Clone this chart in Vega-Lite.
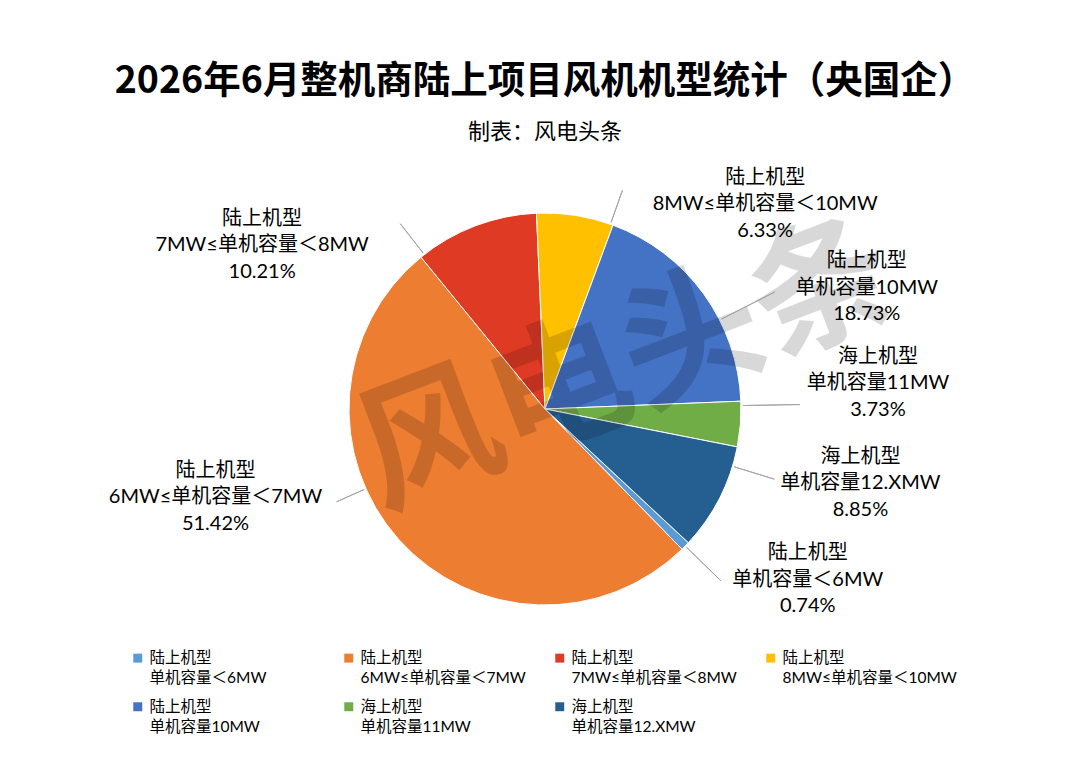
{
  "$schema": "https://vega.github.io/schema/vega-lite/v6.json",
  "width": 1000,
  "height": 498,
  "autosize": {"type": "none"},
  "padding": {"left": 45, "top": 160, "right": 26, "bottom": 105},
  "background": "white",
  "config": {
    "view": {"stroke": null},
    "font": "Noto Sans CJK SC",
    "style": {"guide-label": {"lineHeight": 20}}
  },
  "title": {
    "text": "2026年6月整机商陆上项目风机机型统计（央国企）",
    "subtitle": "制表：风电头条",
    "font": "Noto Sans CJK SC",
    "fontSize": 37.5,
    "fontWeight": "bold",
    "color": "#000000",
    "subtitleFont": "Noto Sans CJK SC",
    "subtitleFontSize": 22,
    "subtitleColor": "#000000",
    "subtitlePadding": 22,
    "offset": 17,
    "anchor": "middle"
  },
  "data": {
    "values": [
      {"name": "陆上机型\n单机容量＜6MW", "value": 0.74},
      {"name": "陆上机型\n6MW≤单机容量＜7MW", "value": 51.42},
      {"name": "陆上机型\n7MW≤单机容量＜8MW", "value": 10.21},
      {"name": "陆上机型\n8MW≤单机容量＜10MW", "value": 6.33},
      {"name": "陆上机型\n单机容量10MW", "value": 18.73},
      {"name": "海上机型\n单机容量11MW", "value": 3.73},
      {"name": "海上机型\n单机容量12.XMW", "value": 8.85}
    ]
  },
  "transform": [
    {"stack": "value", "groupby": [], "as": ["v0", "v1"]},
    {"calculate": "(datum.v0 + datum.v1) / 2", "as": "mid"},
    {"calculate": "datum.name + '\\n' + format(datum.value, '.2f') + '%'", "as": "label"}
  ],
  "layer": [
    {
      "mark": {"type": "arc", "stroke": "#ffffff", "strokeWidth": 1},
      "encoding": {
        "theta": {"field": "v0", "type": "quantitative", "stack": null, "scale": {"domain": [0, 100.01], "range": [2.32129, 8.60448]}},
        "theta2": {"field": "v1"},
        "radius": {"value": 196},
        "color": {
          "field": "name",
          "type": "nominal",
          "scale": {
            "domain": [
              "陆上机型\n单机容量＜6MW",
              "陆上机型\n6MW≤单机容量＜7MW",
              "陆上机型\n7MW≤单机容量＜8MW",
              "陆上机型\n8MW≤单机容量＜10MW",
              "陆上机型\n单机容量10MW",
              "海上机型\n单机容量11MW",
              "海上机型\n单机容量12.XMW"
            ],
            "range": ["#5B9BD5", "#ED7D31", "#DF3A24", "#FFC000", "#4472C4", "#70AD47", "#255E91"]
          },
          "legend": {
            "title": null,
            "orient": "none",
            "legendX": 85,
            "legendY": 490,
            "direction": "horizontal",
            "columns": 4,
            "gridAlign": "all",
            "padding": 0,
            "symbolType": "square",
            "symbolSize": 80,
            "symbolStrokeWidth": 0,
            "labelFont": "Lato, Noto Sans CJK SC",
            "labelFontSize": 15.5,
            "labelColor": "#000000",
            "labelExpr": "split(datum.label, '\\n')",
            "labelBaseline": "middle",
            "labelLimit": 300,
            "labelOffset": 4,
            "columnPadding": 17,
            "rowPadding": 12
          }
        }
      }
    },
    {
      "data": {"values": [{"mark": "风电头条"}]},
      "mark": {"type": "text", "fontSize": 140, "fontWeight": "bold", "angle": 339, "fill": "#000000", "opacity": 0.15, "align": "center", "baseline": "middle"},
      "encoding": {
        "theta": {"value": 1.11},
        "radius": {"value": 92},
        "text": {"field": "mark"}
      }
    },
    {
      "transform": [{"filter": {"field": "name", "equal": "陆上机型\n单机容量＜6MW"}}],
      "layer": [
        {
          "mark": {"type": "arc", "filled": false, "stroke": "#a6a6a6", "strokeWidth": 1, "thetaOffset": 0, "theta2Offset": 0},
          "encoding": {"theta": {"field": "mid", "type": "quantitative", "stack": null, "scale": {"domain": [0, 100.01], "range": [2.32129, 8.60448]}}, "theta2": {"field": "mid"}, "radius": {"value": 246}, "radius2": {"value": 198}}
        },
        {
          "mark": {"type": "text", "thetaOffset": -0.1995, "dy": -26, "font": "Lato, Noto Sans CJK SC", "fontSize": 20, "lineBreak": "\n", "lineHeight": 26.5, "align": "center", "baseline": "middle", "fill": "#000000"},
          "encoding": {"theta": {"field": "mid", "type": "quantitative", "stack": null, "scale": {"domain": [0, 100.01], "range": [2.32129, 8.60448]}}, "radius": {"value": 313}, "text": {"field": "label"}}
        }
      ]
    },
    {
      "transform": [{"filter": {"field": "name", "equal": "陆上机型\n6MW≤单机容量＜7MW"}}],
      "layer": [
        {
          "mark": {"type": "arc", "filled": false, "stroke": "#a6a6a6", "strokeWidth": 1, "thetaOffset": 0.3105, "theta2Offset": 0.3105},
          "encoding": {"theta": {"field": "mid", "type": "quantitative", "stack": null, "scale": {"domain": [0, 100.01], "range": [2.32129, 8.60448]}}, "theta2": {"field": "mid"}, "radius": {"value": 228}, "radius2": {"value": 198}}
        },
        {
          "mark": {"type": "text", "thetaOffset": 0.4693, "dy": -26, "font": "Lato, Noto Sans CJK SC", "fontSize": 20, "lineBreak": "\n", "lineHeight": 26.5, "align": "center", "baseline": "middle", "fill": "#000000"},
          "encoding": {"theta": {"field": "mid", "type": "quantitative", "stack": null, "scale": {"domain": [0, 100.01], "range": [2.32129, 8.60448]}}, "radius": {"value": 341}, "text": {"field": "label"}}
        }
      ]
    },
    {
      "transform": [{"filter": {"field": "name", "equal": "陆上机型\n7MW≤单机容量＜8MW"}}],
      "layer": [
        {
          "mark": {"type": "arc", "filled": false, "stroke": "#a6a6a6", "strokeWidth": 1, "thetaOffset": -0.299, "theta2Offset": -0.299},
          "encoding": {"theta": {"field": "mid", "type": "quantitative", "stack": null, "scale": {"domain": [0, 100.01], "range": [2.32129, 8.60448]}}, "theta2": {"field": "mid"}, "radius": {"value": 235}, "radius2": {"value": 198}}
        },
        {
          "mark": {"type": "text", "thetaOffset": -0.6812, "dy": -26, "font": "Lato, Noto Sans CJK SC", "fontSize": 20, "lineBreak": "\n", "lineHeight": 26.5, "align": "center", "baseline": "middle", "fill": "#000000"},
          "encoding": {"theta": {"field": "mid", "type": "quantitative", "stack": null, "scale": {"domain": [0, 100.01], "range": [2.32129, 8.60448]}}, "radius": {"value": 327}, "text": {"field": "label"}}
        }
      ]
    },
    {
      "transform": [{"filter": {"field": "name", "equal": "陆上机型\n8MW≤单机容量＜10MW"}}],
      "layer": [
        {
          "mark": {"type": "arc", "filled": false, "stroke": "#a6a6a6", "strokeWidth": 1, "thetaOffset": 0.185, "theta2Offset": 0.185},
          "encoding": {"theta": {"field": "mid", "type": "quantitative", "stack": null, "scale": {"domain": [0, 100.01], "range": [2.32129, 8.60448]}}, "theta2": {"field": "mid"}, "radius": {"value": 232}, "radius2": {"value": 198}}
        },
        {
          "mark": {"type": "text", "thetaOffset": 0.665, "dy": -26, "font": "Lato, Noto Sans CJK SC", "fontSize": 20, "lineBreak": "\n", "lineHeight": 26.5, "align": "center", "baseline": "middle", "fill": "#000000"},
          "encoding": {"theta": {"field": "mid", "type": "quantitative", "stack": null, "scale": {"domain": [0, 100.01], "range": [2.32129, 8.60448]}}, "radius": {"value": 301}, "text": {"field": "label"}}
        }
      ]
    },
    {
      "transform": [{"filter": {"field": "name", "equal": "陆上机型\n单机容量10MW"}}],
      "layer": [
        {
          "mark": {"type": "arc", "filled": false, "stroke": "#a6a6a6", "strokeWidth": 1, "thetaOffset": 0.157, "theta2Offset": 0.157},
          "encoding": {"theta": {"field": "mid", "type": "quantitative", "stack": null, "scale": {"domain": [0, 100.01], "range": [2.32129, 8.60448]}}, "theta2": {"field": "mid"}, "radius": {"value": 258}, "radius2": {"value": 198}}
        },
        {
          "mark": {"type": "text", "thetaOffset": 0.2662, "dy": -26, "font": "Lato, Noto Sans CJK SC", "fontSize": 20, "lineBreak": "\n", "lineHeight": 26.5, "align": "center", "baseline": "middle", "fill": "#000000"},
          "encoding": {"theta": {"field": "mid", "type": "quantitative", "stack": null, "scale": {"domain": [0, 100.01], "range": [2.32129, 8.60448]}}, "radius": {"value": 344}, "text": {"field": "label"}}
        }
      ]
    },
    {
      "transform": [{"filter": {"field": "name", "equal": "海上机型\n单机容量11MW"}}],
      "layer": [
        {
          "mark": {"type": "arc", "filled": false, "stroke": "#a6a6a6", "strokeWidth": 1, "thetaOffset": -0.0948, "theta2Offset": -0.0948},
          "encoding": {"theta": {"field": "mid", "type": "quantitative", "stack": null, "scale": {"domain": [0, 100.01], "range": [2.32129, 8.60448]}}, "theta2": {"field": "mid"}, "radius": {"value": 255}, "radius2": {"value": 198}}
        },
        {
          "mark": {"type": "text", "thetaOffset": -0.1559, "dy": -26, "font": "Lato, Noto Sans CJK SC", "fontSize": 20, "lineBreak": "\n", "lineHeight": 26.5, "align": "center", "baseline": "middle", "fill": "#000000"},
          "encoding": {"theta": {"field": "mid", "type": "quantitative", "stack": null, "scale": {"domain": [0, 100.01], "range": [2.32129, 8.60448]}}, "radius": {"value": 334}, "text": {"field": "label"}}
        }
      ]
    },
    {
      "transform": [{"filter": {"field": "name", "equal": "海上机型\n单机容量12.XMW"}}],
      "layer": [
        {
          "mark": {"type": "arc", "filled": false, "stroke": "#a6a6a6", "strokeWidth": 1, "thetaOffset": -0.1758, "theta2Offset": -0.1758},
          "encoding": {"theta": {"field": "mid", "type": "quantitative", "stack": null, "scale": {"domain": [0, 100.01], "range": [2.32129, 8.60448]}}, "theta2": {"field": "mid"}, "radius": {"value": 240}, "radius2": {"value": 198}}
        },
        {
          "mark": {"type": "text", "thetaOffset": -0.2421, "dy": -26, "font": "Lato, Noto Sans CJK SC", "fontSize": 20, "lineBreak": "\n", "lineHeight": 26.5, "align": "center", "baseline": "middle", "fill": "#000000"},
          "encoding": {"theta": {"field": "mid", "type": "quantitative", "stack": null, "scale": {"domain": [0, 100.01], "range": [2.32129, 8.60448]}}, "radius": {"value": 324}, "text": {"field": "label"}}
        }
      ]
    }
  ]
}
